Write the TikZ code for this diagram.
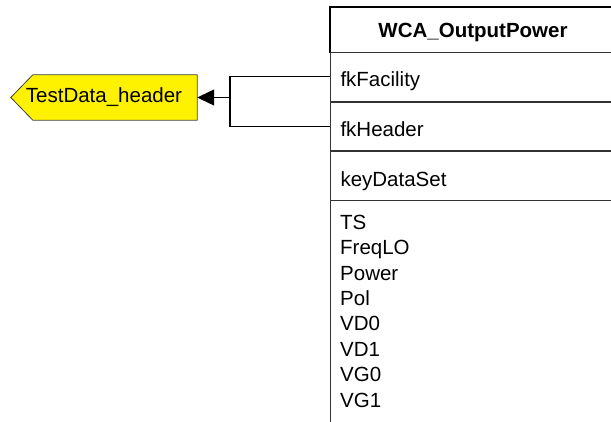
\documentclass[tikz,border=0pt]{standalone}
\usepackage{fontspec}
\setmainfont{Liberation Sans}
\usetikzlibrary{arrows.meta, positioning, backgrounds}

\begin{document}
\begin{tikzpicture}[x=1pt, y=-1pt,
  every node/.style={font=\fontsize{20.5}{25}\selectfont},
  tblhead/.style={draw=black!80, line width=1pt, anchor=north west,
    minimum width=285pt, minimum height=45pt, inner sep=0pt,
    text height=16pt, text depth=1.6pt, font=\fontsize{20.5}{25}\selectfont\bfseries},
  tblrow/.style={draw=black!80, line width=1pt, anchor=north west,
    minimum width=285pt, minimum height=48.7pt, text width=265pt,
    inner xsep=10pt, align=left, text height=21pt, text depth=1pt},
  attr/.style={anchor=west, inner sep=0pt, text height=15pt, text depth=4pt},
  entity/.style={inner sep=0pt, minimum width=186pt, minimum height=45pt,
    text height=15pt, text depth=4pt},
  entityshape/.style={fill=yellow, draw=black!75, line width=0.8pt},
  link/.style={line width=1.2pt, black}]
\useasboundingbox (0,0) rectangle (611,422);

% Tabel WCA_OutputPower
\node[tblhead] (hdr) at (330,7) {WCA\_OutputPower};
\draw[line width=2pt, black] (hdr.south west) |- (hdr.north east);
\node[tblrow] (fkFacility) at (330,52) {fkFacility};
\node[tblrow] (fkHeader) at (fkFacility.south west) {fkHeader};
\node[tblrow] (keyDataSet) at (fkHeader.south west) {keyDataSet};
\draw[draw=black!80, line width=1pt] (keyDataSet.south west) -- ++(0,230);

% Atribute
\node[attr] (aTS) at (340,223.8) {TS};
\node[attr] (aFreqLO) at (340,249.2) {FreqLO};
\node[attr] (aPower) at (340,274.6) {Power};
\node[attr] (aPol) at (340,300.0) {Pol};
\node[attr] (aVD0) at (340,325.4) {VD0};
\node[attr] (aVD1) at (340,350.8) {VD1};
\node[attr] (aVG0) at (340,376.2) {VG0};
\node[attr] (aVG1) at (340,401.6) {VG1};

% Tabel referit
\node[entity] (testData) at (104,97.5) {TestData\_header};
\begin{scope}[on background layer]
\draw[entityshape] (testData.west) -- ([xshift=22pt]testData.north west)
  -- (testData.north east) -- (testData.south east)
  -- ([xshift=22pt]testData.south west) -- cycle;
\end{scope}

% Legatura chei straine
\coordinate (split) at (230,97.5);
\draw[link] (fkFacility.west) -| (split) |- (fkHeader.west);
\draw[link, -{Triangle[length=17pt, width=16pt]}] (split) -- (testData.east);

\end{tikzpicture}
\end{document}
